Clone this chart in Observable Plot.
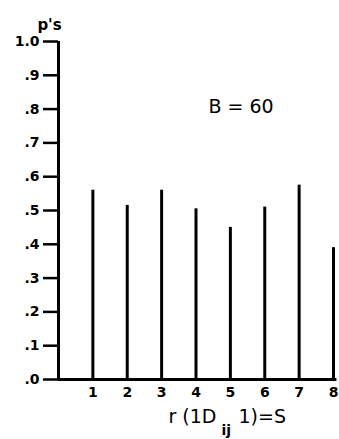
<!DOCTYPE html>
<html><head><meta charset="utf-8">
<script src="https://cdn.jsdelivr.net/npm/d3@7"></script>
<script src="https://cdn.jsdelivr.net/npm/@observablehq/plot@0.6"></script>
<style>body{margin:0;background:#fff}</style>
</head><body><div id="chart"></div>
<script>
const xs = [1, 2, 3, 4, 5, 6, 7, 8];
const ps = [0.56, 0.515, 0.56, 0.505, 0.45, 0.51, 0.575, 0.39];
const xTickLabels = ["1", "2", "3", "4", "5", "6", "7", "8"];
const yTicks = [0, 0.1, 0.2, 0.3, 0.4, 0.5, 0.6, 0.7, 0.8, 0.9, 1.0];
const yTickLabels = [".0", ".1", ".2", ".3", ".4", ".5", ".6", ".7", ".8", ".9", "1.0"];
const yTitle = "p's";
const note = "B = 60";
const xTitleParts = ["r (1D", "ij", "1)=S"];

const font = "'DejaVu Sans', sans-serif";
const chart = Plot.plot({
  width: 339, height: 439,
  marginLeft: 58, marginRight: 6, marginTop: 41, marginBottom: 60,
  style: {fontFamily: font, background: "#fff", color: "#000"},
  x: {domain: [0, 8]},
  y: {domain: [0, 1]},
  marks: [
    Plot.axisY({ticks: yTicks, tickFormat: d => yTickLabels[Math.round(d * 10)],
      tickSize: 15, tickPadding: 4, strokeWidth: 2.5, fontSize: 14, fontWeight: "bold", label: null}),
    Plot.axisX({ticks: xs, tickFormat: d => xTickLabels[d - 1], tickSize: 0, tickPadding: 8,
      fontSize: 14, fontWeight: "bold", label: null}),
    Plot.ruleX([0], {y1: 0, y2: 1, strokeWidth: 3}),
    Plot.ruleY([0], {x1: 0, x2: 8.1, strokeWidth: 3}),
    Plot.ruleX(xs.map((x, i) => ({x, p: ps[i]})), {x: "x", y1: 0, y2: "p", strokeWidth: 3}),
    Plot.text([yTitle], {frameAnchor: "top-left", dx: -9, dy: -22, textAnchor: "middle", fontSize: 15, fontWeight: "bold"}),
    Plot.text([note], {frameAnchor: "top-left", dx: 150, dy: 58, textAnchor: "start", fontSize: 19}),
    Plot.text([xTitleParts[0]], {frameAnchor: "bottom-left", dx: 110, dy: 43, textAnchor: "start", fontSize: 19}),
    Plot.text([xTitleParts[1]], {frameAnchor: "bottom-left", dx: 163, dy: 55, textAnchor: "start", fontSize: 14, fontWeight: "bold"}),
    Plot.text([xTitleParts[2]], {frameAnchor: "bottom-left", dx: 180, dy: 43, textAnchor: "start", fontSize: 19})
  ]
});
d3.select(chart).selectAll("g").filter(function() {
  const a = this.getAttribute("aria-label") || "";
  return a.includes("y-axis tick") && !a.includes("label");
}).attr("stroke-width", 2.5).selectAll("path, line").attr("stroke-width", 2.5);
document.getElementById("chart").appendChild(chart);
</script></body></html>
